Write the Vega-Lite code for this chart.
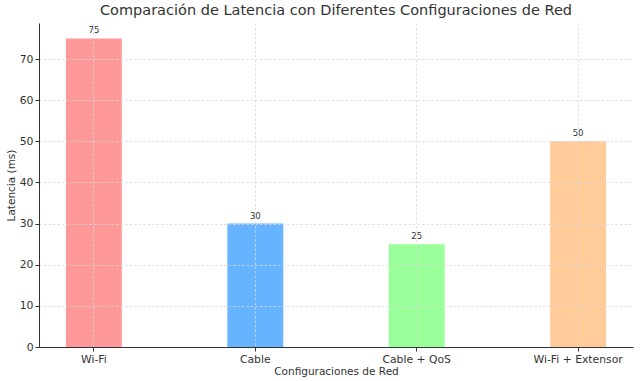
{
  "$schema": "https://vega.github.io/schema/vega-lite/v6.json",
  "autosize": {"type": "none"},
  "width": 594,
  "height": 324,
  "padding": {"left": 39, "top": 23, "right": 7, "bottom": 34},
  "background": "white",
  "title": {
    "text": "Comparación de Latencia con Diferentes Configuraciones de Red",
    "font": "DejaVu Sans",
    "fontSize": 14.5,
    "fontWeight": "normal",
    "color": "#333333",
    "anchor": "middle",
    "offset": 5
  },
  "config": {
    "view": {"stroke": null},
    "font": "DejaVu Sans"
  },
  "data": {
    "values": [
      {"config": "Wi-Fi", "latencia": 75, "color": "#ff9999"},
      {"config": "Cable", "latencia": 30, "color": "#66b3ff"},
      {"config": "Cable + QoS", "latencia": 25, "color": "#99ff99"},
      {"config": "Wi-Fi + Extensor", "latencia": 50, "color": "#ffcc99"}
    ]
  },
  "encoding": {
    "x": {
      "field": "config",
      "type": "nominal",
      "sort": null,
      "scale": {"paddingInner": 0.6536, "paddingOuter": 0.1668},
      "axis": {
        "title": "Configuraciones de Red",
        "titleFont": "DejaVu Sans",
        "titleFontSize": 10.5,
        "titleFontWeight": "normal",
        "titleColor": "#333333",
        "titlePadding": 3,
        "labelAngle": 0,
        "labelFontSize": 10.8,
        "labelColor": "#333333",
        "labelPadding": 2,
        "tickColor": "#333333",
        "tickSize": 4,
        "domainColor": "#333333",
        "grid": true,
        "gridDash": [2.5, 2],
        "gridColor": "#d8d8d8",
        "gridWidth": 0.8,
        "bandPosition": 0.5,
        "zindex": 1
      }
    },
    "y": {
      "field": "latencia",
      "type": "quantitative",
      "scale": {"domain": [0, 78.75], "nice": false},
      "axis": {
        "title": "Latencia (ms)",
        "titleFont": "DejaVu Sans",
        "titleFontSize": 10.5,
        "titleFontWeight": "normal",
        "titleColor": "#333333",
        "titlePadding": 3,
        "values": [0, 10, 20, 30, 40, 50, 60, 70],
        "labelFontSize": 10.8,
        "labelColor": "#333333",
        "labelPadding": 2,
        "tickColor": "#333333",
        "tickSize": 4,
        "domainColor": "#333333",
        "grid": true,
        "gridDash": [2.5, 2],
        "gridColor": "#d8d8d8",
        "gridWidth": 0.8,
        "zindex": 1
      }
    }
  },
  "layer": [
    {
      "mark": {"type": "bar"},
      "encoding": {
        "color": {"field": "color", "type": "nominal", "scale": null}
      }
    },
    {
      "mark": {"type": "text", "baseline": "bottom", "dy": -3, "fontSize": 8.5, "color": "#333333"},
      "encoding": {
        "text": {"field": "latencia", "type": "quantitative"}
      }
    }
  ]
}
